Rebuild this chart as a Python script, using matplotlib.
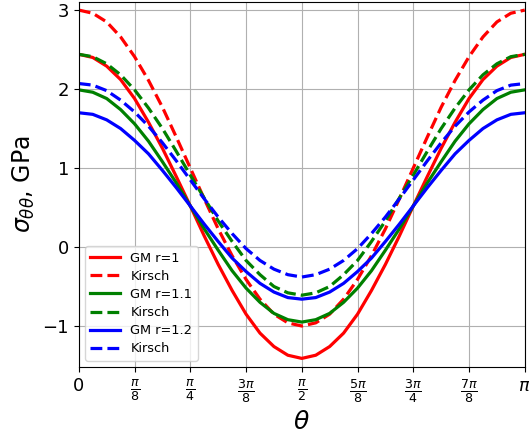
import matplotlib
matplotlib.use("Agg")
import matplotlib.pyplot as plt
import numpy as np

# angle samples, every pi/32 from 0 to pi
theta = np.linspace(0, np.pi, 33)

# sigma_theta_theta (GPa)
gm_r1 = [2.44, 2.40, 2.29, 2.12, 1.88, 1.58, 1.25, 0.89, 0.52, 0.14, -0.22, -0.55, -0.85, -1.09, -1.26, -1.37, -1.41,
         -1.37, -1.26, -1.09, -0.85, -0.55, -0.22, 0.14, 0.52, 0.89, 1.25, 1.58, 1.88, 2.12, 2.29, 2.40, 2.44]
kirsch_r1 = [3.00, 2.96, 2.85, 2.66, 2.41, 2.11, 1.77, 1.39, 1.00, 0.61, 0.23, -0.11, -0.41, -0.66, -0.85, -0.96, -1.00,
             -0.96, -0.85, -0.66, -0.41, -0.11, 0.23, 0.61, 1.00, 1.39, 1.77, 2.11, 2.41, 2.66, 2.85, 2.96, 3.00]
gm_r11 = [1.99, 1.96, 1.88, 1.74, 1.56, 1.34, 1.08, 0.81, 0.52, 0.23, -0.04, -0.30, -0.52, -0.70, -0.84, -0.92, -0.95,
          -0.92, -0.84, -0.70, -0.52, -0.30, -0.04, 0.23, 0.52, 0.81, 1.08, 1.34, 1.56, 1.74, 1.88, 1.96, 1.99]
kirsch_r11 = [2.44, 2.41, 2.32, 2.18, 1.99, 1.76, 1.50, 1.21, 0.91, 0.62, 0.33, 0.07, -0.17, -0.35, -0.50, -0.58, -0.61,
              -0.58, -0.50, -0.35, -0.17, 0.07, 0.33, 0.62, 0.91, 1.21, 1.50, 1.76, 1.99, 2.18, 2.32, 2.41, 2.44]
gm_r12 = [1.70, 1.68, 1.61, 1.50, 1.35, 1.18, 0.97, 0.75, 0.52, 0.29, 0.07, -0.14, -0.31, -0.46, -0.57, -0.64, -0.66,
          -0.64, -0.57, -0.46, -0.31, -0.14, 0.07, 0.29, 0.52, 0.75, 0.97, 1.18, 1.35, 1.50, 1.61, 1.68, 1.70]
kirsch_r12 = [2.07, 2.05, 1.98, 1.86, 1.71, 1.53, 1.32, 1.09, 0.85, 0.61, 0.38, 0.17, -0.02, -0.17, -0.28, -0.35, -0.38,
              -0.35, -0.28, -0.17, -0.02, 0.17, 0.38, 0.61, 0.85, 1.09, 1.32, 1.53, 1.71, 1.86, 1.98, 2.05, 2.07]

xtick_labels = ["0", r"$\frac{\pi}{8}$", r"$\frac{\pi}{4}$", r"$\frac{3\pi}{8}$", r"$\frac{\pi}{2}$",
                r"$\frac{5\pi}{8}$", r"$\frac{3\pi}{4}$", r"$\frac{7\pi}{8}$", r"$\pi$"]

fig, ax = plt.subplots(figsize=(5.29, 4.37), dpi=100)
fig.subplots_adjust(left=0.149, right=0.992, bottom=0.160, top=0.995)

lw = 2.3
ax.plot(theta, gm_r1, color="red", lw=lw, label="GM r=1")
ax.plot(theta, kirsch_r1, color="red", lw=lw, ls="--", label="Kirsch")
ax.plot(theta, gm_r11, color="green", lw=lw, label="GM r=1.1")
ax.plot(theta, kirsch_r11, color="green", lw=lw, ls="--", label="Kirsch")
ax.plot(theta, gm_r12, color="blue", lw=lw, label="GM r=1.2")
ax.plot(theta, kirsch_r12, color="blue", lw=lw, ls="--", label="Kirsch")

ax.set_xlim(0, np.pi)
ax.set_ylim(-1.52, 3.10)
ax.set_xticks(np.arange(9) * np.pi / 8)
ax.set_xticklabels(xtick_labels)
ax.set_yticks([-1, 0, 1, 2, 3])
ax.tick_params(labelsize=13)
ax.grid(True)

ax.set_xlabel(r"$\theta$", fontsize=18)
ax.set_ylabel(r"$\sigma_{\theta\theta}$, GPa", fontsize=17)
ax.legend(loc="lower left", fontsize=9.3, handlelength=2.3, labelspacing=0.4)

plt.savefig("out.png", dpi=100)
